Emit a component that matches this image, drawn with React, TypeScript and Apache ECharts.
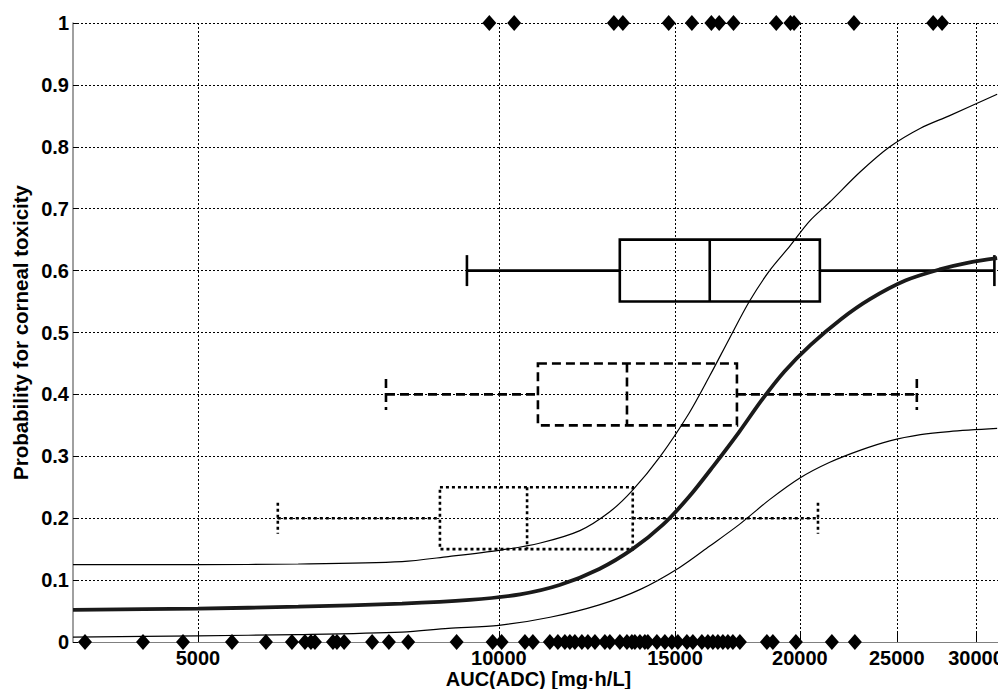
import React, { useEffect, useRef } from "react";
import * as echarts from "echarts";

const xTicks = [5000, 10000, 15000, 20000, 25000, 30000];

const upperCurve = [
  [3750, 0.125], [5000, 0.125], [6300, 0.126], [8000, 0.13], [8900, 0.138], [10000, 0.148],
  [11000, 0.16], [12050, 0.18], [12900, 0.21], [13600, 0.245], [14500, 0.3], [15500, 0.37],
  [16250, 0.43], [17000, 0.49], [17800, 0.55], [18650, 0.6], [19550, 0.64], [20450, 0.68],
  [21400, 0.71], [23000, 0.76], [24600, 0.8], [26400, 0.83], [28200, 0.85], [31500, 0.885],
];

const meanCurve = [
  [3750, 0.052], [5000, 0.054], [6300, 0.057], [8000, 0.062], [9350, 0.068], [10500, 0.077],
  [11500, 0.092], [12600, 0.118], [13600, 0.15], [14600, 0.19], [15500, 0.235], [16400, 0.285],
  [17400, 0.34], [18300, 0.39], [19300, 0.437], [20500, 0.48], [22000, 0.522], [23500, 0.554],
  [25500, 0.584], [27600, 0.602], [29500, 0.613], [31500, 0.62],
];

const lowerCurve = [
  [3750, 0.008], [5000, 0.01], [6300, 0.012], [8000, 0.016], [8900, 0.022], [10000, 0.027],
  [11250, 0.04], [12600, 0.06], [13850, 0.085], [15150, 0.12], [16250, 0.155], [17400, 0.19],
  [18650, 0.23], [20000, 0.265], [21400, 0.29], [23000, 0.31], [24600, 0.325], [26400, 0.335],
  [28200, 0.34], [31500, 0.345],
];

// [min, q1, median, q3, max, level]
const boxStats = [
  [9290, 13210, 16250, 20940, 31300, 0.6],
  [7710, 10940, 13430, 17300, 26180, 0.4],
  [6010, 8730, 10670, 13610, 20850, 0.2],
];
const boxStyles = ["solid", "dashed", "dotted"];

const eventsNo = [
  3855, 4406, 4831, 5408, 5848, 6209, 6397, 6486, 6546, 6823, 6887, 7001, 7468, 7762, 8115,
  9072, 9856, 10062, 10617, 10814, 11246, 11455, 11641, 11776, 11912, 12106, 12274, 12474,
  12764, 12912, 13213, 13428, 13583, 13677, 13836, 13996, 14093, 14388, 14655, 14894, 15101,
  15417, 15631, 15959, 16181, 16368, 16558, 16749, 16943, 17140, 17418, 18535, 18793, 19815,
  21528, 22699,
];

const eventsYes = [
  9781, 10358, 13030, 13303, 14785, 15594, 16312, 16608, 17163, 18940, 19570, 19733, 22649,
  27184, 27746,
];

const FONT = "'Liberation Sans', Arial, Helvetica, sans-serif";

export default function App() {
  const ref = useRef<HTMLDivElement>(null);
  useEffect(() => {
    document.body.style.margin = "0";
    const chart = echarts.init(ref.current!, null, { renderer: "svg" });
    const boxRender = (params: any, api: any) => {
      const idx = params.dataIndex;
      const mn = api.value(0), q1 = api.value(1), md = api.value(2), q3 = api.value(3), mx = api.value(4), yc = api.value(5);
      const c = (v: number, y: number) => api.coord([v, y]);
      const h = 0.05, capH = 0.025;
      const kind = boxStyles[idx];
      const lineDash = kind === "dashed" ? [9, 5] : kind === "dotted" ? [3, 3] : null;
      const style: any = { stroke: "#000", lineWidth: 2.6, fill: "none", lineDash };
      const seg = (x1: number, y1: number, x2: number, y2: number) => ({ type: "line", shape: { x1, y1, x2, y2 }, style });
      const pMin = c(mn, yc), pQ1 = c(q1, yc), pMd = c(md, yc), pQ3 = c(q3, yc), pMax = c(mx, yc);
      const top = c(q1, yc + h)[1], bot = c(q1, yc - h)[1];
      const capT = c(mn, yc + capH)[1], capB = c(mn, yc - capH)[1];
      return {
        type: "group",
        children: [
          seg(pMin[0], pMin[1], pQ1[0], pQ1[1]),
          seg(pQ3[0], pQ3[1], pMax[0], pMax[1]),
          seg(pMin[0], capT, pMin[0], capB),
          seg(pMax[0], capT, pMax[0], capB),
          { type: "rect", shape: { x: pQ1[0], y: top, width: pQ3[0] - pQ1[0], height: bot - top }, style },
          seg(pMd[0], top, pMd[0], bot),
        ],
      };
    };
    chart.setOption({
      animation: false,
      backgroundColor: "#fff",
      grid: { left: 73, right: 26, top: 23, bottom: 47, containLabel: false, outerBoundsMode: "none" },
      xAxis: {
        type: "log",
        logBase: 10,
        min: 3750,
        max: 32000,
        name: "AUC(ADC) [mg·h/L]",
        nameLocation: "middle",
        nameGap: 27,
        nameMoveOverlap: false,
        nameTextStyle: { fontFamily: FONT, fontWeight: "bold", fontSize: 20, color: "#000" },
        axisLine: { show: true, lineStyle: { color: "#808080", width: 1 } },
        axisTick: { show: true, inside: true, length: 9, customValues: xTicks, lineStyle: { color: "#000", width: 1 } },
        minorTick: { show: false },
        axisLabel: {
          customValues: xTicks,
          formatter: (v: number) => String(Math.round(v)),
          fontFamily: FONT, fontWeight: "bold", fontSize: 20, color: "#000", margin: 6,
        },
        splitLine: { show: true, lineStyle: { type: [2, 2], color: "#000", width: 1 } },
      },
      yAxis: {
        type: "value",
        min: 0,
        max: 1,
        interval: 0.1,
        name: "Probability for corneal toxicity",
        nameLocation: "middle",
        nameGap: 42,
        nameMoveOverlap: false,
        nameTextStyle: { fontFamily: FONT, fontWeight: "bold", fontSize: 20.5, color: "#000" },
        axisLine: { show: true, lineStyle: { color: "#808080", width: 1.5 } },
        axisTick: { show: true, inside: true, length: 5, lineStyle: { color: "#000" } },
        axisLabel: { fontFamily: FONT, fontWeight: "bold", fontSize: 20, color: "#000", margin: 4 },
        splitLine: { show: true, lineStyle: { type: [2, 2], color: "#000", width: 1 } },
      },
      series: [
        { type: "line", data: upperCurve, smooth: 0.3, showSymbol: false, lineStyle: { color: "#000", width: 1.2 } },
        { type: "line", data: lowerCurve, smooth: 0.3, showSymbol: false, lineStyle: { color: "#000", width: 1.2 } },
        { type: "line", data: meanCurve, smooth: 0.3, showSymbol: false, lineStyle: { color: "#1a1a1a", width: 3.8 } },
        { type: "custom", data: boxStats, renderItem: boxRender, encode: { x: [0, 1, 2, 3, 4], y: 5 }, clip: false },
        {
          type: "scatter", data: eventsNo.map((v) => [v, 0]), symbol: "diamond", symbolSize: [14, 16],
          itemStyle: { color: "#000", opacity: 1 }, clip: false,
        },
        {
          type: "scatter", data: eventsYes.map((v) => [v, 1]), symbol: "diamond", symbolSize: [14, 16],
          itemStyle: { color: "#000", opacity: 1 }, clip: false,
        },
      ],
    });
    return () => chart.dispose();
  }, []);
  return (
    <div style={{ position: "fixed", left: 0, top: 0, width: 998, height: 689, overflow: "hidden", background: "#fff" }}>
      <div ref={ref} style={{ width: 1030, height: 689 }} />
    </div>
  );
}
